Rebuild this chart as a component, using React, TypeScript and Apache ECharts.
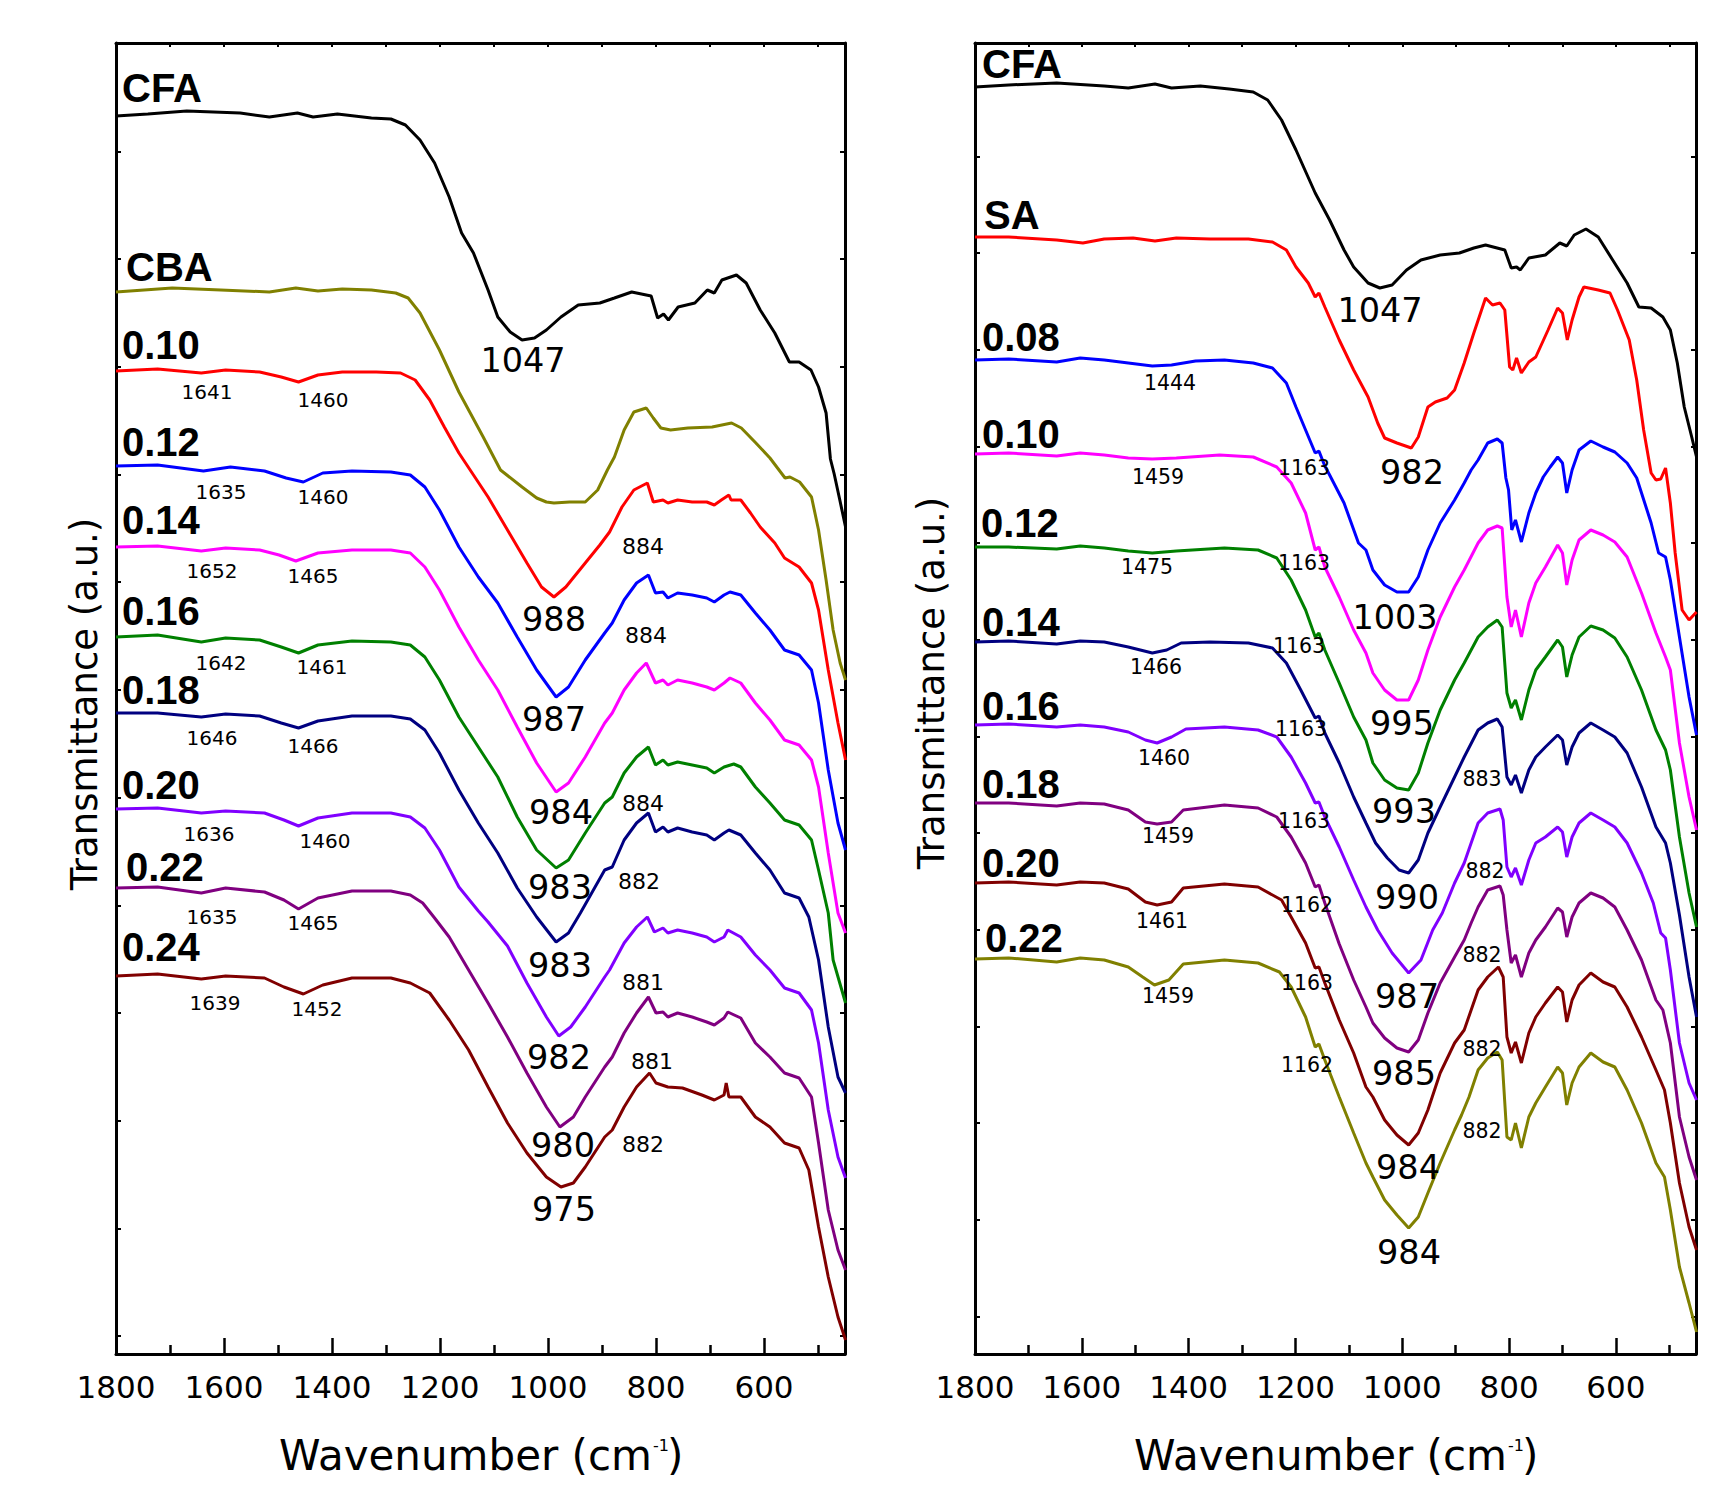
import React, { useEffect, useRef } from "react";
import * as echarts from "echarts";

const FONT = "DejaVu Sans";
const BOLD_FONT = "Liberation Sans";

// ---- axes ----
const wnMin = 450;
const wnMax = 1800;
const xMajorTicks = [600, 800, 1000, 1200, 1400, 1600, 1800];
const xMinorTicks = [500, 700, 900, 1100, 1300, 1500, 1700];
const xTopTicks = [500, 600, 700, 800, 900, 1000, 1100, 1200, 1300, 1400, 1500, 1600, 1700];
const tMax = 131.1;
const leftYTicks = [1.8, 12.5, 23.3, 34.1, 44.8, 55.6, 66.4, 77.2, 87.9, 98.7, 109.5, 120.2];
const rightYTicks = [3.7, 13.4, 23.1, 32.7, 42.4, 52.1, 61.7, 71.4, 81.1, 90.7, 100.4, 110.1, 119.7];

// ---- left panel spectra: [wavenumber, transmittance a.u.] ----
const lCFA = [[1800,123.8],[1741,124.0],[1669,124.3],[1570,124.1],[1516,123.7],[1464,124.1],[1435,123.7],[1390,124.0],[1327,123.6],[1291,123.5],[1264,122.9],[1237,121.4],[1210,119.1],[1183,115.7],[1160,112.1],[1138,110.1],[1111,106.4],[1093,103.7],[1070,102.2],[1048,101.4],[1025,101.6],[1003,102.4],[976,103.7],[944,104.9],[904,105.1],[877,105.6],[845,106.2],[809,105.8],[797,103.6],[786,104.0],[777,103.4],[759,104.7],[728,105.1],[705,106.4],[692,106.1],[678,107.4],[651,107.9],[633,107.1],[607,104.4],[580,102.1],[553,99.2],[535,99.2],[513,98.4],[499,96.7],[485,94.1],[477,89.5],[470,88.0],[460,85.5],[449,82.7]];
const lCBA = [[1800,106.2],[1696,106.6],[1606,106.4],[1516,106.2],[1467,106.6],[1426,106.3],[1381,106.5],[1327,106.4],[1282,106.1],[1259,105.6],[1237,104.1],[1201,100.4],[1165,96.2],[1120,91.7],[1088,88.4],[1048,86.7],[1021,85.6],[1003,85.2],[989,85.1],[960,85.2],[931,85.2],[908,86.4],[890,88.4],[877,89.7],[859,92.4],[841,94.2],[818,94.6],[805,93.6],[791,92.6],[773,92.4],[741,92.6],[696,92.7],[660,93.1],[642,92.6],[615,91.1],[589,89.6],[561,87.6],[552,87.7],[534,87.2],[512,85.7],[499,82.4],[485,77.4],[472,72.4],[459,69.1],[449,67.4]];
const l010 = [[1800,98.3],[1723,98.5],[1642,98.1],[1597,98.4],[1534,98.2],[1494,97.7],[1462,97.2],[1426,97.9],[1381,98.2],[1318,98.2],[1273,98.1],[1246,97.4],[1219,95.4],[1192,92.7],[1165,90.1],[1138,87.9],[1111,85.7],[1075,82.4],[1039,79.1],[1012,76.7],[989,75.7],[967,76.7],[931,79.1],[904,80.9],[886,82.2],[863,84.7],[841,86.4],[816,87.1],[805,85.2],[787,85.4],[778,85.1],[760,85.4],[733,85.2],[706,85.2],[692,84.9],[679,85.4],[665,85.9],[661,85.4],[643,85.4],[625,84.1],[607,82.7],[580,81.1],[562,79.6],[535,78.7],[512,77.1],[499,74.4],[481,68.4],[463,63.1],[449,59.4]];
const l012 = [[1800,88.8],[1723,88.9],[1638,88.3],[1588,88.7],[1525,88.3],[1485,87.6],[1453,87.2],[1417,88.1],[1363,88.3],[1291,88.2],[1255,87.9],[1228,86.7],[1201,84.4],[1165,80.7],[1129,77.7],[1093,75.1],[1057,71.7],[1021,68.4],[985,65.7],[962,66.7],[931,69.4],[895,72.1],[881,73.1],[859,75.4],[836,77.1],[814,77.9],[801,76.1],[787,76.2],[778,75.6],[760,76.1],[733,75.9],[706,75.6],[692,75.2],[674,75.9],[663,76.2],[643,75.9],[616,74.1],[589,72.4],[562,70.4],[535,69.9],[512,68.4],[499,65.1],[481,58.4],[463,53.1],[449,50.4]];
const l014 = [[1800,80.7],[1723,80.8],[1642,80.3],[1597,80.6],[1534,80.4],[1498,79.9],[1467,79.3],[1426,80.1],[1363,80.4],[1291,80.4],[1255,80.1],[1228,78.7],[1201,76.4],[1165,72.7],[1129,69.4],[1093,66.4],[1057,62.7],[1021,59.1],[985,56.2],[962,57.1],[931,59.7],[895,63.1],[881,64.1],[859,66.4],[836,68.1],[818,69.1],[801,67.1],[787,67.4],[778,66.9],[760,67.4],[733,67.1],[706,66.7],[692,66.4],[674,67.1],[663,67.6],[643,67.1],[616,65.1],[589,63.4],[562,61.4],[535,60.9],[512,59.4],[499,56.7],[481,50.1],[463,44.1],[449,42.1]];
const l016 = [[1800,71.7],[1723,71.9],[1642,71.2],[1597,71.6],[1534,71.4],[1494,70.7],[1462,70.1],[1426,70.9],[1363,71.3],[1291,71.2],[1255,70.9],[1228,69.7],[1201,67.4],[1165,63.7],[1129,60.7],[1093,57.7],[1057,53.7],[1021,50.4],[985,48.6],[962,49.4],[931,52.1],[895,55.1],[881,55.7],[859,58.1],[836,59.7],[814,60.7],[801,58.9],[787,59.4],[778,58.9],[760,59.2],[733,58.9],[706,58.6],[692,58.1],[674,58.7],[656,59.0],[643,58.7],[616,56.7],[589,55.1],[562,53.4],[535,52.9],[512,51.4],[499,48.4],[481,44.1],[472,39.4],[449,35.1]];
const l018 = [[1800,64.1],[1723,64.1],[1642,63.7],[1597,64.0],[1534,63.8],[1494,63.1],[1462,62.6],[1426,63.3],[1363,63.8],[1291,63.8],[1255,63.5],[1228,62.4],[1201,60.1],[1165,56.4],[1129,53.1],[1093,50.1],[1057,46.6],[1021,43.7],[985,41.2],[962,42.1],[940,44.1],[895,48.4],[881,48.7],[859,51.4],[836,53.1],[814,54.1],[801,52.2],[787,52.7],[778,52.2],[760,52.6],[733,52.2],[706,51.9],[692,51.4],[674,52.1],[665,52.4],[643,51.9],[616,50.1],[589,48.4],[562,46.1],[535,45.6],[517,43.7],[499,39.4],[481,32.7],[463,27.7],[449,26.1]];
const l020 = [[1800,54.5],[1723,54.6],[1642,54.1],[1597,54.3],[1525,54.1],[1489,53.4],[1462,52.8],[1426,53.6],[1363,54.1],[1291,54.1],[1255,53.7],[1228,52.6],[1201,50.4],[1165,46.7],[1129,44.3],[1111,43.2],[1075,40.8],[1039,37.1],[1003,33.7],[980,31.8],[958,32.7],[931,34.7],[895,37.7],[886,38.4],[859,41.1],[836,42.7],[816,43.7],[803,42.2],[787,42.6],[778,42.1],[760,42.4],[733,42.1],[706,41.7],[692,41.2],[674,41.7],[667,42.4],[643,41.7],[616,39.9],[589,38.4],[562,36.6],[535,36.1],[512,34.4],[499,31.1],[481,24.4],[463,19.7],[449,17.6]];
const l022 = [[1800,46.6],[1723,46.7],[1642,46.1],[1597,46.6],[1525,46.2],[1489,45.4],[1462,44.5],[1426,45.6],[1363,46.3],[1291,46.3],[1255,45.9],[1232,45.1],[1210,43.6],[1183,41.7],[1147,38.4],[1111,35.1],[1075,31.7],[1039,28.1],[1003,24.7],[978,22.7],[953,23.7],[931,25.7],[895,28.7],[881,29.7],[859,32.1],[836,34.1],[814,35.7],[800,34.1],[787,34.2],[778,33.7],[760,34.1],[733,33.7],[706,33.2],[692,32.9],[674,33.6],[667,34.2],[643,33.6],[616,31.1],[589,29.7],[562,28.1],[535,27.6],[512,25.7],[499,21.1],[481,14.4],[463,10.4],[449,8.4]];
const l024 = [[1800,37.8],[1723,38.0],[1642,37.5],[1597,37.8],[1525,37.6],[1489,36.7],[1453,36.0],[1417,36.9],[1363,37.6],[1291,37.6],[1255,37.1],[1219,36.1],[1183,33.4],[1147,30.4],[1111,26.7],[1075,23.1],[1039,20.1],[1003,17.7],[976,16.7],[953,17.1],[931,18.7],[895,21.7],[881,22.4],[859,24.7],[836,26.7],[812,28.1],[800,27.1],[778,26.7],[751,26.6],[715,25.9],[692,25.4],[674,25.9],[670,27.1],[665,25.7],[643,25.7],[616,23.7],[589,22.7],[562,21.1],[535,20.6],[517,18.4],[499,12.7],[481,7.7],[463,3.7],[449,1.4]];

// ---- right panel spectra ----
const rCFA = [[1800,126.7],[1737,126.9],[1647,127.1],[1558,126.8],[1513,126.6],[1463,127.0],[1432,126.6],[1378,126.8],[1324,126.5],[1279,126.2],[1252,125.4],[1226,123.4],[1199,120.4],[1163,116.1],[1136,113.4],[1109,110.4],[1091,108.7],[1064,107.1],[1042,106.6],[1019,106.9],[992,108.4],[965,109.4],[929,109.9],[893,110.1],[866,110.6],[844,110.9],[808,110.4],[796,108.6],[786,108.7],[779,108.4],[763,109.6],[732,109.9],[705,111.1],[692,110.8],[678,111.9],[656,112.5],[633,111.7],[606,109.4],[579,107.1],[557,104.7],[534,104.6],[512,103.7],[498,102.4],[485,99.1],[472,94.7],[458,91.7],[449,89.7]];
const rSA = [[1800,111.7],[1737,111.7],[1647,111.4],[1598,111.1],[1558,111.5],[1504,111.6],[1463,111.3],[1423,111.6],[1360,111.5],[1288,111.5],[1243,111.2],[1217,110.4],[1199,108.7],[1176,107.1],[1163,105.7],[1156,106.1],[1145,104.7],[1118,101.4],[1091,98.4],[1064,95.7],[1046,93.1],[1033,91.6],[1010,91.1],[983,90.6],[970,91.7],[952,94.7],[938,95.2],[916,95.6],[902,96.4],[884,99.1],[866,102.1],[844,105.6],[831,104.9],[817,105.1],[808,104.4],[799,98.7],[793,98.4],[786,99.6],[777,98.1],[763,99.2],[750,99.7],[727,102.4],[709,104.6],[700,104.1],[691,101.4],[682,103.4],[669,105.7],[660,106.7],[633,106.4],[611,106.1],[597,104.4],[575,101.4],[561,97.4],[548,92.4],[534,88.1],[525,87.4],[516,87.5],[507,88.6],[498,85.1],[489,80.1],[476,74.4],[463,73.4],[449,74.2]];
const r008 = [[1800,99.4],[1737,99.5],[1647,99.2],[1603,99.6],[1558,99.4],[1513,99.1],[1468,98.8],[1432,98.9],[1387,99.3],[1333,99.4],[1279,99.1],[1243,98.6],[1217,97.1],[1199,94.7],[1181,92.4],[1163,90.1],[1156,90.3],[1145,88.8],[1136,87.9],[1109,85.1],[1082,81.1],[1068,80.4],[1055,78.4],[1033,76.9],[1010,76.2],[988,76.2],[970,77.7],[952,80.4],[929,83.1],[902,85.4],[884,87.1],[871,88.4],[858,89.4],[840,91.1],[822,91.5],[813,91.1],[806,87.6],[801,86.4],[795,82.4],[788,83.4],[777,81.2],[763,84.1],[750,86.1],[736,87.7],[723,88.7],[709,89.7],[700,89.1],[692,86.1],[682,88.4],[669,90.4],[647,91.3],[624,90.7],[602,90.2],[579,89.1],[561,87.6],[552,86.1],[534,83.1],[520,80.1],[507,79.7],[498,77.4],[481,71.7],[463,65.7],[449,61.9]];
const r010 = [[1800,90.0],[1737,90.1],[1647,89.8],[1603,90.1],[1558,89.9],[1513,89.6],[1468,89.5],[1423,89.6],[1342,89.9],[1279,89.7],[1235,88.7],[1208,87.1],[1181,84.1],[1163,80.4],[1156,80.7],[1145,78.7],[1118,75.7],[1091,72.4],[1068,70.1],[1055,68.1],[1033,66.4],[1010,65.4],[988,65.4],[970,67.4],[952,70.4],[929,73.7],[902,76.7],[884,78.4],[858,81.1],[840,82.4],[822,82.8],[813,82.6],[804,75.7],[796,72.7],[788,74.4],[777,71.7],[763,75.1],[750,77.1],[732,78.7],[709,80.9],[700,80.1],[692,76.9],[682,79.4],[669,81.4],[647,82.4],[624,81.9],[602,81.2],[579,79.7],[552,76.1],[525,72.1],[507,69.7],[498,68.4],[481,61.1],[463,55.7],[449,52.4]];
const r012 = [[1800,80.7],[1737,80.7],[1647,80.5],[1603,80.8],[1558,80.6],[1513,80.3],[1468,80.1],[1423,80.3],[1333,80.6],[1270,80.4],[1235,79.6],[1208,77.4],[1181,74.4],[1163,71.7],[1156,72.1],[1145,70.4],[1118,67.1],[1091,63.7],[1068,61.4],[1055,59.1],[1033,57.4],[1010,56.6],[988,56.4],[970,58.1],[952,61.1],[929,64.4],[902,67.4],[884,69.1],[858,71.7],[840,72.7],[822,73.4],[813,72.7],[804,66.1],[796,64.6],[788,65.4],[777,63.4],[763,66.4],[750,68.4],[732,69.7],[709,71.4],[700,70.7],[692,67.7],[682,69.9],[669,71.7],[647,72.8],[624,72.4],[602,71.6],[579,69.7],[552,66.4],[525,62.4],[507,60.4],[498,58.4],[481,51.7],[463,46.1],[449,42.7]];
const r014 = [[1800,71.2],[1737,71.3],[1647,71.0],[1603,71.3],[1558,71.2],[1513,70.7],[1468,70.1],[1441,70.4],[1414,71.1],[1360,71.2],[1288,71.1],[1243,70.6],[1217,69.1],[1190,66.4],[1163,63.6],[1156,63.8],[1145,62.1],[1118,59.1],[1091,55.7],[1068,53.1],[1050,51.1],[1028,49.6],[1006,48.4],[988,48.1],[970,49.4],[952,52.1],[929,54.7],[902,57.7],[884,59.7],[858,62.4],[840,63.1],[822,63.5],[813,62.7],[804,57.7],[796,56.9],[788,57.9],[777,56.1],[763,58.4],[750,59.7],[732,60.7],[709,61.9],[700,61.4],[692,58.9],[682,60.7],[669,62.1],[647,63.1],[624,62.4],[602,61.7],[579,60.1],[552,56.7],[525,52.7],[507,51.1],[498,49.1],[481,43.9],[463,37.7],[449,33.7]];
const r016 = [[1800,62.9],[1737,63.0],[1647,62.7],[1603,62.9],[1558,62.7],[1513,62.2],[1481,61.4],[1459,61.1],[1432,61.7],[1405,62.5],[1333,62.7],[1270,62.4],[1235,61.7],[1208,59.7],[1181,57.1],[1163,55.1],[1156,55.2],[1145,53.7],[1118,50.7],[1091,47.4],[1068,44.7],[1046,42.4],[1019,40.1],[988,38.1],[965,39.4],[943,42.4],[925,44.1],[902,47.1],[884,49.1],[858,53.1],[840,54.1],[817,54.5],[811,53.4],[804,48.7],[796,47.7],[788,48.6],[777,46.9],[763,49.4],[750,51.1],[732,51.7],[709,52.7],[700,52.2],[692,49.7],[682,51.7],[669,53.1],[647,54.1],[624,53.4],[602,52.7],[579,51.1],[552,48.1],[530,45.1],[516,42.1],[507,41.6],[498,38.4],[481,31.1],[463,27.1],[449,25.4]];
const r018 = [[1800,55.1],[1737,55.1],[1647,54.8],[1603,55.1],[1558,55.0],[1513,54.4],[1481,53.2],[1459,53.0],[1432,53.2],[1410,54.4],[1333,54.9],[1270,54.6],[1235,53.7],[1208,51.7],[1181,49.1],[1163,46.7],[1156,46.9],[1145,45.1],[1118,41.0],[1091,37.4],[1068,34.7],[1055,33.1],[1033,31.6],[1010,30.6],[988,30.2],[970,31.4],[952,34.1],[929,37.1],[902,39.7],[884,41.4],[871,43.1],[858,44.7],[840,46.4],[817,46.8],[811,45.9],[804,42.4],[796,39.1],[788,39.9],[777,37.7],[763,40.1],[750,41.4],[732,42.7],[709,44.6],[700,44.2],[692,41.7],[682,43.7],[669,45.1],[647,46.1],[624,45.6],[602,44.7],[579,42.4],[552,39.4],[525,35.4],[512,34.4],[498,31.1],[481,23.7],[463,19.7],[449,17.4]];
const r020 = [[1800,47.1],[1737,47.2],[1647,46.9],[1603,47.2],[1558,47.1],[1513,46.5],[1481,45.2],[1459,44.9],[1432,45.2],[1410,46.6],[1333,47.0],[1270,46.7],[1226,45.4],[1208,43.7],[1181,41.1],[1163,38.6],[1156,38.7],[1145,37.1],[1118,33.4],[1091,30.1],[1068,26.7],[1055,25.7],[1033,23.4],[1010,21.9],[988,20.9],[970,22.1],[952,24.4],[929,28.1],[902,31.1],[884,32.4],[858,36.4],[840,37.7],[820,38.7],[811,37.7],[804,31.7],[796,30.1],[788,31.2],[777,29.1],[763,32.1],[750,33.7],[732,35.1],[709,36.7],[700,36.2],[692,33.2],[682,35.4],[669,36.9],[647,38.1],[624,37.2],[602,36.7],[579,34.7],[552,31.7],[525,28.4],[509,26.4],[498,23.1],[481,17.1],[463,12.7],[449,10.4]];
const r022 = [[1800,39.5],[1737,39.6],[1647,39.2],[1603,39.6],[1558,39.4],[1513,38.7],[1486,37.7],[1464,36.9],[1437,37.4],[1410,39.0],[1333,39.4],[1270,39.1],[1230,38.2],[1208,36.7],[1181,33.7],[1163,30.7],[1156,31.0],[1145,29.4],[1118,25.7],[1091,22.1],[1068,19.1],[1055,17.7],[1033,15.4],[1010,13.9],[988,12.6],[970,13.7],[952,16.1],[929,19.1],[902,22.4],[889,23.9],[875,25.7],[858,28.4],[840,29.6],[822,30.2],[813,29.4],[804,21.7],[796,21.4],[788,23.1],[777,20.6],[763,23.7],[750,25.1],[732,26.7],[709,28.7],[700,28.1],[692,24.9],[682,27.1],[669,28.7],[647,30.1],[624,29.2],[602,28.7],[579,26.4],[552,23.1],[525,19.1],[509,17.7],[498,14.4],[481,8.7],[463,5.1],[449,2.2]];

// ---- series names / colours ----
const leftNames = ["CFA", "CBA", "0.10", "0.12", "0.14", "0.16", "0.18", "0.20", "0.22", "0.24"];
const leftData = [lCFA, lCBA, l010, l012, l014, l016, l018, l020, l022, l024];
const leftColors = ["#000000", "#808000", "#FF0000", "#0000FF", "#FF00FF", "#008000", "#000080", "#8000FF", "#800080", "#800000"];
const rightNames = ["CFA", "SA", "0.08", "0.10", "0.12", "0.14", "0.16", "0.18", "0.20", "0.22"];
const rightData = [rCFA, rSA, r008, r010, r012, r014, r016, r018, r020, r022];
const rightColors = ["#000000", "#FF0000", "#0000FF", "#FF00FF", "#008000", "#000080", "#8000FF", "#800080", "#800000", "#808000"];

// ---- annotation texts ----
const leftNameLabels: [string, number, number][] = [["CFA",122,88],["CBA",126,267],["0.10",122,345],["0.12",122,442],["0.14",122,520],["0.16",122,611],["0.18",122,690],["0.20",122,785],["0.22",126,867],["0.24",122,947]];
const rightNameLabels: [string, number, number][] = [["CFA",982,64],["SA",984,215],["0.08",982,337],["0.10",982,434],["0.12",981,523],["0.14",982,622],["0.16",982,706],["0.18",982,784],["0.20",982,863],["0.22",985,938]];
const leftSmall: [string, number, number][] = [["1641",207,392],["1460",323,400],["1635",221,492],["1460",323,497],["1652",212,571],["1465",313,576],["1642",221,663],["1461",322,667],["1646",212,738],["1466",313,746],["1636",209,834],["1460",325,841],["1635",212,917],["1465",313,923],["1639",215,1003],["1452",317,1009]];
const leftMid: [string, number, number][] = [["884",643,546],["884",646,635],["884",643,803],["882",639,881],["881",643,982],["881",652,1061],["882",643,1144]];
const leftBig: [string, number, number][] = [["1047",523,360],["988",554,619],["987",554,719],["984",561,812],["983",560,887],["983",560,965],["982",559,1057],["980",563,1145],["975",564,1209]];
const rightSmall: [string, number, number][] = [["1444",1170,383],["1163",1304,468],["1459",1158,477],["1163",1304,563],["1475",1147,567],["1163",1299,646],["1466",1156,667],["1163",1301,729],["1460",1164,758],["1163",1304,821],["1459",1168,836],["1162",1307,905],["1461",1162,921],["1163",1307,983],["1459",1168,996],["1162",1307,1065],["883",1482,779],["882",1485,871],["882",1482,955],["882",1482,1049],["882",1482,1131]];
const rightBig: [string, number, number][] = [["1047",1380,310],["982",1412,472],["1003",1395,617],["995",1402,723],["993",1404,811],["990",1407,897],["987",1407,996],["985",1404,1073],["984",1408,1167],["984",1409,1252]];

function txt(text: string, x: number, y: number, size: number, bold = false, align = "center", rotation = 0, family = FONT) {
  return {
    type: "text",
    x,
    y,
    rotation,
    silent: true,
    z: 100,
    style: {
      text,
      fill: "#000",
      fontSize: size,
      fontFamily: family,
      fontWeight: bold ? "bold" : "normal",
      align,
      textAlign: align,
      verticalAlign: "middle",
      textVerticalAlign: "middle",
    },
  };
}

function axesFor(gridIndex: number, yTicks: number[]) {
  const line = { color: "#000", width: 3 };
  const tick = { color: "#000", width: 2.5 };
  const base = {
    type: "value",
    gridIndex,
    min: wnMin,
    max: wnMax,
    inverse: true,
    splitLine: { show: false },
    axisPointer: { show: false },
  };
  const xs = [
    {
      ...base,
      position: "bottom",
      axisLine: { show: true, onZero: false, lineStyle: line },
      axisTick: { show: true, inside: true, length: 16, customValues: xMajorTicks, lineStyle: tick },
      axisLabel: {
        show: true,
        customValues: xMajorTicks,
        formatter: (v: number) => String(v),
        fontSize: 31,
        fontFamily: FONT,
        color: "#000",
        margin: 17,
      },
    },
    {
      ...base,
      position: "bottom",
      axisLine: { show: false, onZero: false },
      axisTick: { show: true, inside: true, length: 9, customValues: xMinorTicks, lineStyle: tick },
      axisLabel: { show: false },
    },
    {
      ...base,
      position: "top",
      axisLine: { show: true, onZero: false, lineStyle: line },
      axisTick: { show: true, inside: true, length: 4, customValues: xTopTicks, lineStyle: { color: "#000", width: 2 } },
      axisLabel: { show: false },
    },
  ];
  const ybase = {
    type: "value",
    gridIndex,
    min: 0,
    max: tMax,
    splitLine: { show: false },
    axisLabel: { show: false },
    axisLine: { show: true, onZero: false, lineStyle: line },
    axisTick: { show: true, inside: true, length: 5, customValues: yTicks, lineStyle: { color: "#000", width: 2 } },
  };
  const ys = [
    { ...ybase, position: "left" },
    { ...ybase, position: "right" },
  ];
  return { xs, ys };
}

function buildOption() {
  const L = axesFor(0, leftYTicks);
  const R = axesFor(1, rightYTicks);
  const mk = (names: string[], data: number[][][], colors: string[], xi: number, yi: number) =>
    names.map((name, i) => ({
      type: "line",
      name,
      data: data[i],
      xAxisIndex: xi,
      yAxisIndex: yi,
      showSymbol: false,
      symbol: "none",
      smooth: false,
      silent: true,
      clip: true,
      lineStyle: { color: colors[i], width: 3 },
      itemStyle: { color: colors[i] },
      z: 10 + i,
    }));
  const graphics: any[] = [];
  leftNameLabels.forEach(([t, x, y]) => graphics.push(txt(t, x, y, 40, true, "left", 0, BOLD_FONT)));
  rightNameLabels.forEach(([t, x, y]) => graphics.push(txt(t, x, y, 40, true, "left", 0, BOLD_FONT)));
  leftSmall.forEach(([t, x, y]) => graphics.push(txt(t, x, y, 20)));
  leftMid.forEach(([t, x, y]) => graphics.push(txt(t, x, y, 22)));
  leftBig.forEach(([t, x, y]) => graphics.push(txt(t, x, y, 33.5)));
  rightSmall.forEach(([t, x, y]) => graphics.push(txt(t, x, y, 20.5)));
  rightBig.forEach(([t, x, y]) => graphics.push(txt(t, x, y, 33.5)));
  // axis titles
  graphics.push(txt("Transmittance (a.u.)", 84, 704, 37, false, "center", Math.PI / 2));
  graphics.push(txt("Transmittance (a.u.)", 931, 683, 37, false, "center", Math.PI / 2));
  [0, 855].forEach((dx) => {
    graphics.push(txt("Wavenumber (cm", 652 + dx, 1455, 42, false, "right"));
    graphics.push(txt("-1", 653 + dx, 1445, 16, false, "left"));
    graphics.push(txt(")", 667 + dx, 1455, 42, false, "left"));
  });

  return {
    animation: false,
    backgroundColor: "#ffffff",
    grid: [
      { left: 116, top: 43, width: 729, height: 1311, containLabel: false },
      { left: 975, top: 43, width: 721, height: 1311, containLabel: false },
    ],
    xAxis: [...L.xs, ...R.xs],
    yAxis: [...L.ys, ...R.ys],
    series: [...mk(leftNames, leftData, leftColors, 0, 0), ...mk(rightNames, rightData, rightColors, 3, 2)],
    graphic: graphics,
  };
}

export default function App() {
  const ref = useRef<HTMLDivElement>(null);
  useEffect(() => {
    if (!ref.current) return;
    const chart = echarts.init(ref.current, null, { renderer: "svg" });
    chart.setOption(buildOption() as any);
    return () => chart.dispose();
  }, []);
  return (
    <div
      ref={ref}
      style={{ position: "absolute", left: 0, top: 0, width: 1731, height: 1489, background: "#fff" }}
    />
  );
}
